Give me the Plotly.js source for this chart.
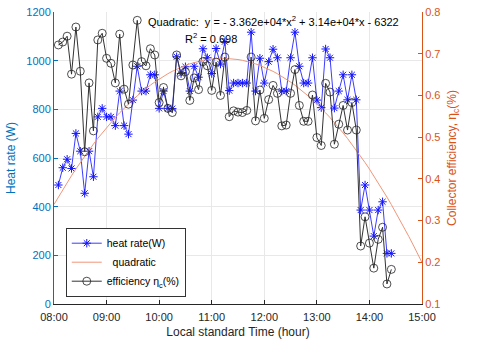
<!DOCTYPE html>
<html>
<head>
<meta charset="utf-8">
<script src="https://cdn.plot.ly/plotly-3.0.1.min.js"></script>
<style>
  html, body { margin: 0; padding: 0; background: #fff; }
  #chart { width: 480px; height: 349px; }
</style>
</head>
<body>
<div id="chart"></div>
<script>
// sample times (local standard time), one every 5 minutes
const times = [
  '08:05','08:10','08:15','08:20','08:25','08:30','08:35','08:40','08:45','08:50',
  '08:55','09:00','09:05','09:10','09:15','09:20','09:25','09:30','09:35','09:40',
  '09:45','09:50','09:55','10:00','10:05','10:10','10:15','10:20','10:25','10:30',
  '10:35','10:40','10:45','10:50','10:55','11:00','11:05','11:10','11:15','11:20',
  '11:25','11:30','11:35','11:40','11:45','11:50','11:55','12:00','12:05','12:10',
  '12:15','12:20','12:25','12:30','12:35','12:40','12:45','12:50','12:55','13:00',
  '13:05','13:10','13:15','13:20','13:25','13:30','13:35','13:40','13:45','13:50',
  '13:55','14:00','14:05','14:10','14:15','14:20','14:25'
];

// heat rate (W)
const heatRate = [
  489, 560, 595, 557, 701, 628, 455, 628, 523, 769,
  804, 769, 769, 733, 875, 733, 698, 838, 977, 875,
  875, 942, 942, 804, 875, 804, 803, 1016, 947, 975,
  875, 977, 932, 1049, 1012, 947, 1050, 986, 1078, 877,
  908, 908, 908, 908, 1117, 875, 1010, 908, 996, 1047,
  1012, 875, 875, 1012, 1117, 977, 908, 908, 1012, 838,
  807, 1048, 1012, 805, 875, 942, 839, 942, 839, 386,
  489, 386, 279, 386, 420, 208, 208
];

// collector efficiency (fraction)
const efficiency = [
  0.721, 0.728, 0.742, 0.651, 0.764, 0.658, 0.465, 0.630, 0.515, 0.733,
  0.749, 0.689, 0.677, 0.630, 0.747, 0.615, 0.579, 0.673, 0.780, 0.681,
  0.671, 0.712, 0.697, 0.583, 0.619, 0.569, 0.559, 0.697, 0.647, 0.657,
  0.588, 0.642, 0.614, 0.681, 0.671, 0.612, 0.680, 0.600, 0.692, 0.549,
  0.563, 0.560, 0.559, 0.564, 0.692, 0.539, 0.613, 0.545, 0.590, 0.624,
  0.605, 0.527, 0.529, 0.605, 0.662, 0.576, 0.538, 0.538, 0.601, 0.499,
  0.480, 0.629, 0.608, 0.483, 0.531, 0.576, 0.517, 0.583, 0.517, 0.239,
  0.309, 0.246, 0.186, 0.255, 0.284, 0.148, 0.183
];

// quadratic fit shown in the plot (x = fraction of a day)
const quadA = -3.362e4, quadB = 3.14e4, quadC = -6322;
const fitTimes = [];
for (let m = 8 * 60; m <= 15 * 60; m += 5) fitTimes.push(m);

const toDate = (hm) => '2000-01-01 ' + hm;
const minToHM = (m) => String(Math.floor(m / 60)).padStart(2, '0') + ':' + String(m % 60).padStart(2, '0');

const fitX = fitTimes.map(m => toDate(minToHM(m)));
const fitY = fitTimes.map(m => { const d = m / 1440; return quadA * d * d + quadB * d + quadC; });

const BLUE = '#0072BD';
const ORANGE = '#D95319';

const data = [
  {
    x: times.map(toDate), y: heatRate, name: 'heat rate(W)',
    type: 'scatter', mode: 'lines+markers', yaxis: 'y',
    line: { color: 'rgb(60,60,255)', width: 1 },
    marker: { symbol: 'asterisk-open', size: 7, color: 'rgb(20,20,255)', line: { color: 'rgb(20,20,255)', width: 1 } }
  },
  {
    x: fitX, y: fitY, name: '\u00a0\u00a0quadratic',
    type: 'scatter', mode: 'lines', yaxis: 'y',
    line: { color: 'rgb(240,150,120)', width: 1 }
  },
  {
    x: times.map(toDate), y: efficiency, name: 'efficiency \u03b7<sub>c</sub>(%)',
    type: 'scatter', mode: 'lines+markers', yaxis: 'y2',
    line: { color: '#333333', width: 1 },
    marker: { symbol: 'circle-open', size: 8, color: '#222222', line: { color: '#222222', width: 0.8 } }
  }
];

const layout = {
  width: 480, height: 349,
  margin: { l: 54, r: 58, t: 12, b: 45 },
  paper_bgcolor: '#fff', plot_bgcolor: '#fff',
  font: { family: 'Liberation Sans, Arial, sans-serif', size: 11, color: '#262626' },
  showlegend: true,
  legend: {
    x: 0.032, y: 0.025, xanchor: 'left', yanchor: 'bottom',
    bgcolor: '#fff', bordercolor: '#333', borderwidth: 1,
    font: { size: 10.5, color: '#000' }, tracegroupgap: 0, itemwidth: 30
  },
  xaxis: {
    type: 'date',
    range: [toDate('08:00'), toDate('15:00')],
    tickformat: '%H:%M', dtick: 3600000, tick0: toDate('08:00'),
    showgrid: true, gridcolor: '#e8e8e8',
    ticks: 'inside', ticklen: 4, tickcolor: '#262626',
    showline: true, linecolor: '#262626', linewidth: 1,
    zeroline: false, ticklabelstandoff: 3,
    tickfont: { size: 11, color: '#262626' },
    title: { text: 'Local standard Time (hour)', font: { size: 12, color: '#262626' }, standoff: 5 }
  },
  yaxis: {
    range: [0, 1200], dtick: 200,
    showgrid: true, gridcolor: '#e8e8e8',
    ticks: 'inside', ticklen: 4, tickcolor: BLUE,
    showline: true, linecolor: BLUE, linewidth: 1,
    zeroline: false,
    tickfont: { size: 11, color: BLUE },
    title: { text: 'Heat rate (W)', font: { size: 12, color: BLUE }, standoff: 8 }
  },
  yaxis2: {
    overlaying: 'y', side: 'right',
    range: [0.1, 0.8], dtick: 0.1,
    showgrid: false,
    ticks: 'inside', ticklen: 4, tickcolor: ORANGE,
    showline: true, linecolor: ORANGE, linewidth: 1,
    zeroline: false,
    tickfont: { size: 11, color: ORANGE },
    title: { text: 'Collector efficiency, \u03b7<sub>c</sub>(%)', font: { size: 12, color: ORANGE }, standoff: 8 }
  },
  annotations: [
    {
      xref: 'paper', yref: 'paper', x: 0.25, y: 0.968, xanchor: 'left', yanchor: 'middle',
      text: 'Quadratic:  y = - 3.362e+04*x<sup>2</sup> + 3.14e+04*x - 6322',
      showarrow: false, font: { size: 11, color: '#000' }
    },
    {
      xref: 'paper', yref: 'paper', x: 0.351, y: 0.91, xanchor: 'left', yanchor: 'middle',
      text: 'R<sup>2</sup> = 0.698',
      showarrow: false, font: { size: 11, color: '#000' }
    }
  ]
};

Plotly.newPlot('chart', data, layout, { displayModeBar: false, staticPlot: true });
</script>
</body>
</html>
